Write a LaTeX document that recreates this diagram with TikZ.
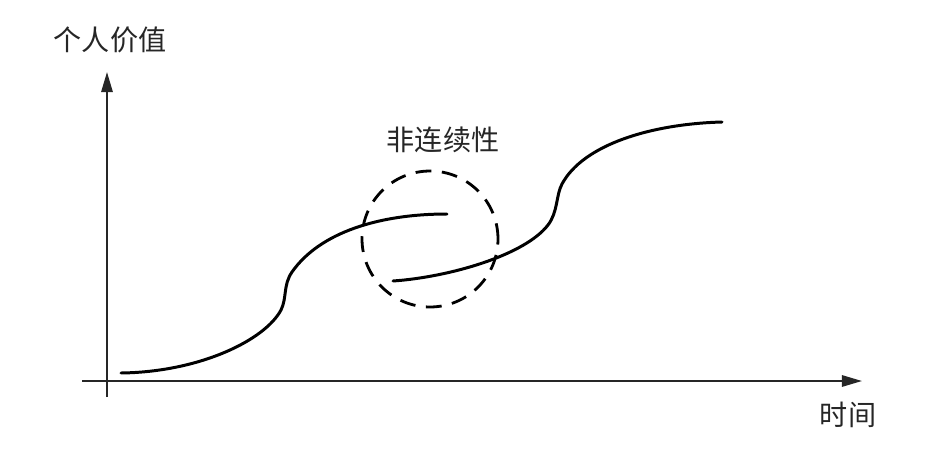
\documentclass[tikz,border=0pt]{standalone}
\usepackage{fontspec}
\newfontfamily\cjk{Noto Sans CJK SC}
\usetikzlibrary{arrows.meta}
\begin{document}
\begin{tikzpicture}[x=0.02cm, y=-0.02cm,
    axis/.style={draw=black!85, line width=1.1pt, -{Triangle[length=11.5pt, width=6.5pt]}},
    curve/.style={line width=1.7pt, line cap=round},
    gapring/.style={line width=1.6pt, dash pattern=on 9pt off 6pt},
    label/.style={font=\cjk\fontsize{16}{16}\selectfont, text=black!85, inner sep=0pt}]
    \useasboundingbox (0,0) rectangle (940,450);

    % 軸
    \coordinate (xs) at (82,381);
    \coordinate (xe) at (862,381);
    \coordinate (ys) at (107,397);
    \coordinate (ye) at (107,72);
    \draw[axis] (xs) -- (xe);
    \draw[axis] (ys) -- (ye);

    \node[label] (value) at (110,40) {个人价值};
    \node[label] (time) at (848,415) {时间};

    % 第一の曲線
    \draw[curve] (121,373) .. controls (200,372) and (265,340) .. (281,310)
        .. controls (287,298) and (283,285) .. (292,272)
        .. controls (320,232) and (380,214) .. (447,214);

    % 第二の曲線
    \draw[curve] (393,281) .. controls (450,277) and (525,255) .. (548,225)
        .. controls (558,212) and (556,195) .. (562,184)
        .. controls (583,145) and (650,124) .. (722,122);

    % 非連続の円
    \node[label] (gap) at (443,140) {非连续性};
    \draw[gapring] (430,239) circle [radius=1.36cm];
\end{tikzpicture}
\end{document}
